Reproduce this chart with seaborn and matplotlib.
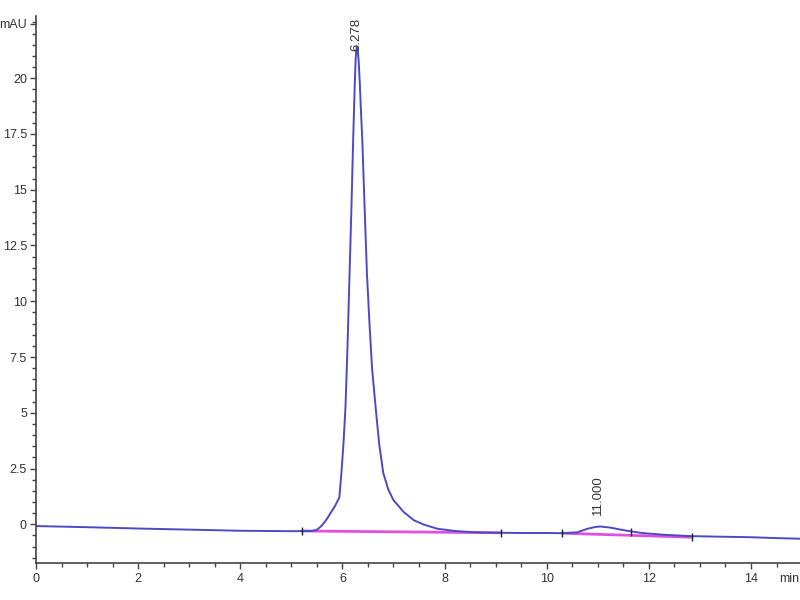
import matplotlib
matplotlib.use("Agg")
import matplotlib.pyplot as plt
from matplotlib.ticker import MultipleLocator, FixedLocator
import seaborn as sns
import pandas as pd

# ---- data ----
time_min = [0.0, 1.0, 2.0, 3.0, 4.0, 5.0, 5.4, 5.5, 5.6, 5.7, 5.76, 5.85, 5.94,
            5.98, 6.02, 6.06, 6.10, 6.14, 6.18, 6.21, 6.24, 6.26, 6.28, 6.30,
            6.32, 6.34, 6.36, 6.39, 6.43, 6.48, 6.53, 6.58, 6.65, 6.72, 6.80,
            6.90, 7.0, 7.2, 7.4, 7.6, 7.86, 8.2, 8.6, 9.0, 9.5, 10.0, 10.3,
            10.6, 10.8, 10.95, 11.05, 11.25, 11.45, 11.65, 11.9, 12.3, 12.8,
            13.5, 14.0, 14.5, 15.0]
signal_mau = [-0.08, -0.13, -0.19, -0.24, -0.29, -0.31, -0.30, -0.25, -0.05,
              0.25, 0.48, 0.8, 1.2, 2.3, 3.6, 5.25, 8.0, 11.25, 14.5, 17.2,
              19.6, 20.9, 21.4, 21.3, 20.7, 19.8, 18.7, 17.2, 14.5, 11.25, 9.0,
              7.0, 5.25, 3.6, 2.3, 1.55, 1.08, 0.55, 0.18, -0.02, -0.2, -0.3,
              -0.36, -0.38, -0.39, -0.39, -0.40, -0.36, -0.20, -0.12, -0.10,
              -0.15, -0.24, -0.32, -0.40, -0.47, -0.53, -0.56, -0.58, -0.62,
              -0.65]

# integration baselines (start, end) and event markers
base1_t = [5.2, 9.1]
base1_v = [-0.30, -0.38]
base2_t = [10.3, 12.85]
base2_v = [-0.40, -0.58]
marker_t = [5.2, 9.1, 10.3, 11.65, 12.85]
marker_v = [-0.30, -0.38, -0.40, -0.34, -0.58]

peak_rt = [6.278, 11.000]
peak_labels = ["6.278", "11.000"]
peak_label_y = [21.2, 0.42]

ytick_vals = [0, 2.5, 5, 7.5, 10, 12.5, 15, 17.5, 20, 22.45]
ytick_labels = ["0", "2.5", "5", "7.5", "10", "12.5", "15", "17.5", "20", "mAU"]
xtick_vals = [0, 2, 4, 6, 8, 10, 12, 14]

# ---- plotting ----
sns.set_style("ticks")
plt.rcParams['font.family'] = ['Liberation Sans', 'DejaVu Sans']

fig = plt.figure(figsize=(8, 6), dpi=100)
ax = fig.add_axes([0.045, 0.0617, 0.955, 0.912])

df = pd.DataFrame({"t": time_min, "v": signal_mau})
sns.lineplot(data=df, x="t", y="v", ax=ax, color="#4a4ac4", linewidth=1.4,
             estimator=None, sort=False)

ax.plot(base1_t, base1_v, color="#e050e0", linewidth=2.0, zorder=1)
ax.plot(base2_t, base2_v, color="#e050e0", linewidth=2.0, zorder=1)
ax.plot(marker_t, marker_v, linestyle="none", marker="|", markersize=6,
        color="#222222", markeredgewidth=1.0)

for rt, lab, ly in zip(peak_rt, peak_labels, peak_label_y):
    ax.text(rt, ly, lab, rotation=90, ha="center", va="bottom",
            fontsize=9.5, color="#333333")

ax.set_xlim(0, 14.96)
ax.set_ylim(-1.735, 22.8)

ax.xaxis.set_major_locator(FixedLocator(xtick_vals))
ax.xaxis.set_minor_locator(MultipleLocator(0.5))
ax.set_yticks(ytick_vals)
ax.set_yticklabels(ytick_labels)
ax.yaxis.set_minor_locator(MultipleLocator(0.5))

ax.tick_params(axis="both", which="major", direction="out", length=4.5,
               width=1.0, color="#444444", labelsize=9, labelcolor="#333333",
               pad=2)
ax.tick_params(axis="both", which="minor", direction="out", length=3,
               width=1.0, color="#444444")
ax.tick_params(axis="x", which="major", pad=3)

for s in ["top", "right"]:
    ax.spines[s].set_visible(False)
for s in ["left", "bottom"]:
    ax.spines[s].set_color("#444444")
    ax.spines[s].set_linewidth(1.2)

ax.set_xlabel("")
ax.set_ylabel("")

ax.annotate("min", xy=(14.55, 0), xycoords=("data", "axes fraction"),
            xytext=(0, -7.5), textcoords="offset points", ha="left", va="top",
            fontsize=9, color="#333333", annotation_clip=False)

fig.savefig("out.png", dpi=100)
